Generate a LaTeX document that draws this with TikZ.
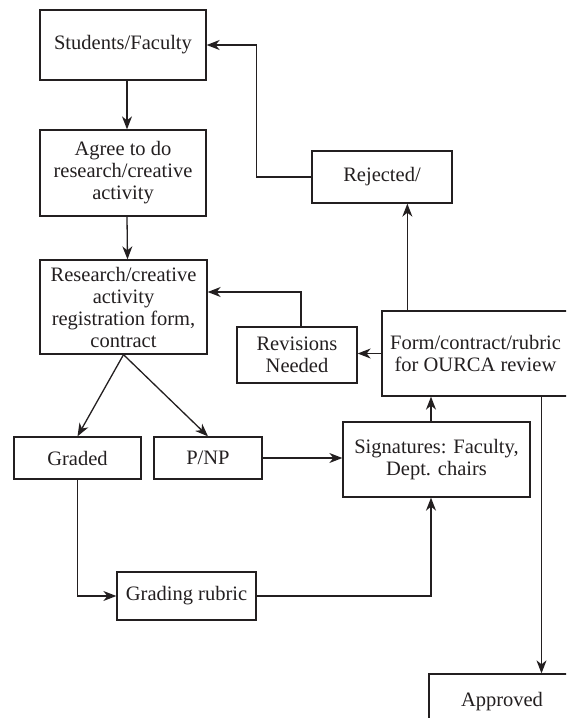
\documentclass[tikz,border=0pt]{standalone}
\usepackage{fontspec}
\setmainfont{Liberation Serif}
\usetikzlibrary{arrows.meta}
\definecolor{ink}{HTML}{231F20}
\tikzset{
    box/.style={draw=ink, line width=1.3pt, inner sep=0pt, align=center, text=ink},
}
\begin{document}
\begin{tikzpicture}[x=1pt, y=-1pt, >={Stealth[length=13pt,width=10pt,inset=4pt]},
    font=\fontsize{20.5}{22}\selectfont, line width=1.3pt, draw=ink]

    \clip (0,0) rectangle (566,718);

    % left column
    \node[box, minimum width=166pt, minimum height=70pt] (stud) at (123,45) {Students/Faculty};
    \node[box, minimum width=166pt, minimum height=86pt] (agree) at (123,173) {Agree to do\\research/creative\\activity};
    \node[box, minimum width=167pt, minimum height=94pt] (reg) at (123.5,307) {Research/creative\\activity\\registration form,\\contract};
    \node[box, minimum width=127pt, minimum height=42pt] (graded) at (77.5,458) {Graded};
    \node[box, minimum width=108pt, minimum height=42pt] (pnp) at (208,458) {P/NP};
    \node[box, minimum width=139pt, minimum height=48pt] (rubric) at (186.5,596) {Grading rubric};

    % right side
    \node[box, minimum width=140pt, minimum height=52pt] (rej) at (382,177) {Rejected/};
    \node[box, minimum width=120pt, minimum height=56pt] (rev) at (297,355) {Revisions\\Needed};
    \node[box, minimum width=187pt, minimum height=85pt] (form) at (475.5,353.5) {Form/contract/rubric\\for OURCA review};
    \node[box, minimum width=187pt, minimum height=75pt] (sig) at (436.5,459.5) {Signatures: Faculty,\\Dept. chairs};
    \node[box, minimum width=146pt, minimum height=56pt] (appr) at (502,702) {Approved};

    \draw[->, ink] ([xshift=4pt]stud.south) -- ([xshift=4pt]agree.north);
    \draw[->, ink] ([xshift=4pt]agree.south) -- ([xshift=4pt]reg.north);
    \draw[->, ink] (reg.south) -- (graded.north);
    \draw[->, ink] (reg.south) -- (pnp.north);
    \draw[->, ink] (graded.south) |- (rubric.west);
    \draw[->, ink] (pnp.east) -- (pnp.east -| sig.west);
    \draw[->, ink] (rubric.east) -| ([xshift=-5.5pt]sig.south);
    \draw[->, ink] ([xshift=-5.5pt]sig.north) -- ([xshift=-5.5pt]sig.north |- form.south);
    \draw[->, ink] (form.west) -- (form.west -| rev.east);
    \draw[->, ink] ([xshift=4pt]rev.north) |- ([yshift=15pt]reg.east);
    \draw[->, ink] ([xshift=26pt]form.north west) -- ([xshift=26pt]form.north west |- rej.south);
    \draw[->, ink] (rej.west) -- ++(-55,0) |- (stud.east);
    \draw[->, ink] ([xshift=66pt]form.south) -- ([xshift=66pt]form.south |- appr.north);

\end{tikzpicture}
\end{document}
